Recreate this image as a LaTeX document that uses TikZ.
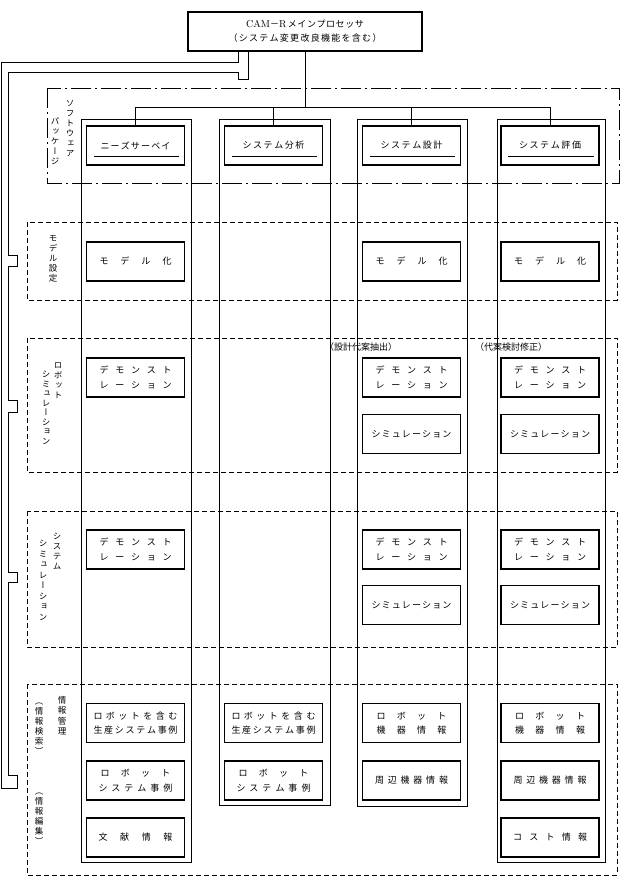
\documentclass[tikz,border=0pt]{standalone}
\usepackage{fontspec}
\usepackage{graphicx}
\newfontfamily\jp{Noto Sans CJK JP}
\newfontfamily\jpv[RawFeature=+vert]{Noto Sans CJK JP}
\newcommand\sprd[2]{\makebox[#1][s]{\sprdaux#2\relax}}
\def\sprdaux#1{\ifx#1\relax\else#1\expandafter\sprdnext\fi}
\def\sprdnext#1{\ifx#1\relax\else\hfill#1\expandafter\sprdnext\fi}
\begin{document}
\begin{tikzpicture}[x=1pt,y=-1pt,
  every node/.style={inner sep=0pt},
  box/.style={draw, line width=1.1pt, minimum width=98pt, minimum height=39pt,
    font=\jp\fontsize{9}{14.5}\selectfont, align=center},
  col/.style={draw, line width=1pt},
  rowbox/.style={draw, line width=0.9pt, dash pattern=on 5pt off 3pt},
  pkg/.style={draw, line width=0.9pt, dash pattern=on 20pt off 4pt on 2pt off 4pt},
  link/.style={draw, line width=0.9pt},
  uline/.style={draw, line width=1.1pt},
  vlab/.style={font=\jpv\fontsize{8.5}{10}\selectfont, align=center, anchor=north},
  note/.style={font=\jp\fontsize{9}{10}\selectfont},
]
\useasboundingbox (0,0) rectangle (623,888);

% dashed rows and package frame
\draw[pkg] (47,88) rectangle (619,183);
\draw[rowbox] (27,222) rectangle (617,300);
\draw[rowbox] (27,338) rectangle (617,472);
\draw[rowbox] (27,511) rectangle (617,647);
\draw[rowbox] (27,684) rectangle (617,875);

% column frames
\draw[col] (81,120) rectangle (191,862);
\draw[col] (219,120) rectangle (330,805);
\draw[col] (357,120) rectangle (467,806);
\draw[col] (497,120) rectangle (605,862);

% main processor
\node[box, minimum width=234pt, minimum height=39pt, font=\jp\fontsize{9}{14}\selectfont] (main) at (305,31.5)
  {{\rmfamily\fontsize{10}{14}\selectfont CAM}－{\rmfamily\fontsize{10}{14}\selectfont R}\,\sprd{76pt}{メインプロセッサ}\\\sprd{153pt}{（システム変更改良機能を含む）}};

% headers
\node[box] (h1) at (135.5,145.5) {\sprd{70pt}{ニーズサーベイ}};
\node[box] (h2) at (273.5,145.5) {\sprd{62pt}{システム分析}};
\node[box] (h3) at (411.5,145.5) {\sprd{62pt}{システム設計}};
\node[box] (h4) at (550,145.5) {\sprd{62pt}{システム評価}};
\foreach \h in {h1,h2,h3,h4}
  \draw[uline] ([xshift=8pt,yshift=9pt]\h.south west) -- ([xshift=-6pt,yshift=9pt]\h.south east);

% tree
\coordinate (bus) at (305,107);
\draw[link] (main.south) -- (bus);
\draw[link] (bus) -| (h1.north);
\draw[link] (bus) -| (h2.north);
\draw[link] (bus) -| (h3.north);
\draw[link] (bus) -| (h4.north);

% left feedback lines
\draw[link] ([xshift=-67pt]main.south) -- (238,62) -- (1.5,62) -- (1.5,788) -- (17,788) -- (17,775) -- (8,775);
\draw[link] ([xshift=-57pt]main.south) -- (248,79) -- (238,79) -- (238,72) -- (8,72)
  -- (8,255) -- (17,255) -- (17,266) -- (8,266)
  -- (8,400) -- (17,400) -- (17,412) -- (8,412)
  -- (8,572) -- (17,572) -- (17,582) -- (8,582) -- (8,775);

% model row
\node[box] (m1) at (135.5,261.5) {\sprd{72pt}{モデル化}};
\node[box] (m3) at (411.5,261.5) {\sprd{72pt}{モデル化}};
\node[box] (m4) at (550,261.5) {\sprd{72pt}{モデル化}};

% robot simulation row
\node[note] (n3) at (361,347) {（設計代案抽出）};
\node[note] (n4) at (511,347) {（代案検討修正）};
\node[box] (rd1) at (135.5,377.5) {\sprd{72pt}{デモンスト}\\\sprd{72pt}{レーション}};
\node[box] (rd3) at (411.5,377.5) {\sprd{72pt}{デモンスト}\\\sprd{72pt}{レーション}};
\node[box] (rd4) at (550,377.5) {\sprd{72pt}{デモンスト}\\\sprd{72pt}{レーション}};
\node[box] (rs3) at (411.5,434) {\sprd{80pt}{シミュレーション}};
\node[box] (rs4) at (550,434) {\sprd{80pt}{シミュレーション}};

% system simulation row
\node[box] (sd1) at (135.5,549.5) {\sprd{72pt}{デモンスト}\\\sprd{72pt}{レーション}};
\node[box] (sd3) at (411.5,549.5) {\sprd{72pt}{デモンスト}\\\sprd{72pt}{レーション}};
\node[box] (sd4) at (550,549.5) {\sprd{72pt}{デモンスト}\\\sprd{72pt}{レーション}};
\node[box] (ss3) at (411.5,605) {\sprd{80pt}{シミュレーション}};
\node[box] (ss4) at (550,605) {\sprd{80pt}{シミュレーション}};

% information row
\node[box] (i11) at (135.5,723) {\sprd{84pt}{ロボットを含む}\\\sprd{84pt}{生産システム事例}};
\node[box] (i12) at (135.5,780.5) {\sprd{70pt}{ロボット}\\\sprd{74pt}{システム事例}};
\node[box] (i13) at (135.5,837.5) {\sprd{74pt}{文献情報}};
\node[box] (i21) at (273.5,723) {\sprd{84pt}{ロボットを含む}\\\sprd{84pt}{生産システム事例}};
\node[box] (i22) at (273.5,780.5) {\sprd{70pt}{ロボット}\\\sprd{74pt}{システム事例}};
\node[box] (i31) at (411.5,723) {\sprd{70pt}{ロボット}\\\sprd{70pt}{機器情報}};
\node[box] (i32) at (411.5,780.5) {\sprd{73pt}{周辺機器情報}};
\node[box] (i41) at (550,723) {\sprd{70pt}{ロボット}\\\sprd{70pt}{機器情報}};
\node[box] (i42) at (550,780.5) {\sprd{73pt}{周辺機器情報}};
\node[box] (i43) at (550,837.5) {\sprd{74pt}{コスト情報}};

% vertical labels
\node[vlab] (lp1) at (70,100) {ソ\\フ\\ト\\ウ\\ェ\\ア};
\node[vlab] (lp2) at (55,118) {パ\\ッ\\ケ\\ー\\ジ};
\node[vlab] (lm) at (53,235) {モ\\デ\\ル\\設\\定};
\node[vlab] (lr1) at (58,363) {ロ\\ボ\\ッ\\ト};
\node[vlab, font=\jpv\fontsize{8.5}{9.5}\selectfont] (lr2) at (46,371) {シ\\ミ\\ュ\\レ\\ー\\シ\\ョ\\ン};
\node[vlab] (ls1) at (57,533) {シ\\ス\\テ\\ム};
\node[vlab, font=\jpv\fontsize{8.5}{10.5}\selectfont] (ls2) at (43,540) {シ\\ミ\\ュ\\レ\\ー\\シ\\ョ\\ン};
\node[vlab, font=\jpv\fontsize{8.5}{10.5}\selectfont] (li) at (62,696) {情\\報\\管\\理};
\node[vlab] (lr) at (39,703) {（\\情\\報\\検\\索\\）};
\node[vlab] (le) at (39,793) {（\\情\\報\\編\\集\\）};
\end{tikzpicture}
\end{document}
